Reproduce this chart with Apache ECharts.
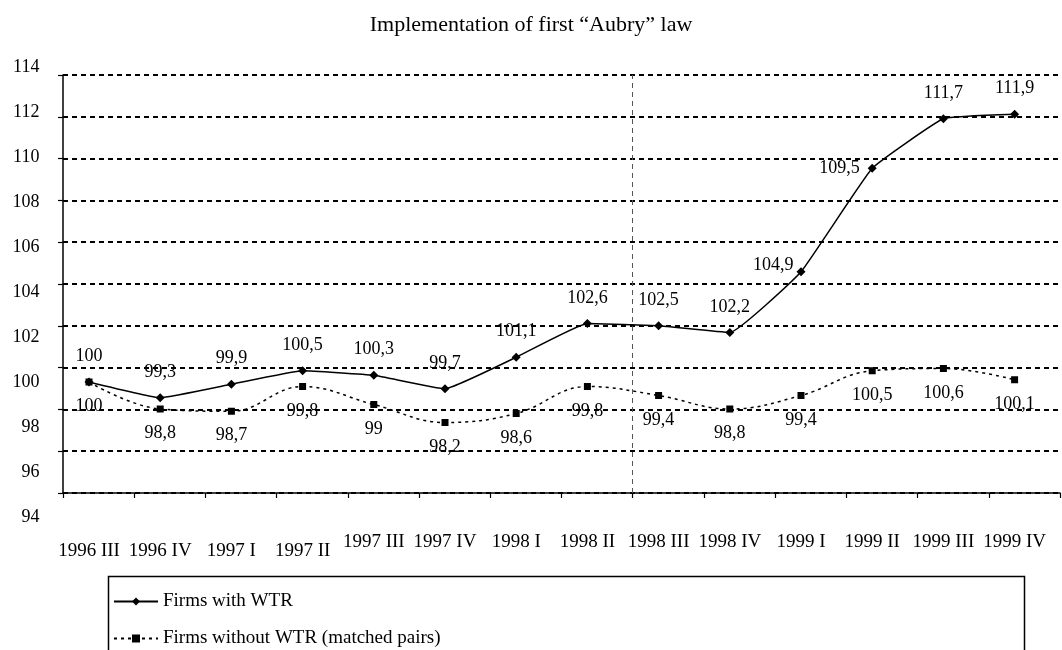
<!DOCTYPE html>
<html>
<head>
<meta charset="utf-8">
<script src="https://cdn.jsdelivr.net/npm/echarts@6/dist/echarts.min.js"></script>
<style>
  html, body { margin: 0; padding: 0; background: #fff; }
  #main { width: 1062px; height: 650px; }
</style>
</head>
<body>
<div id="main"></div>
<script>
var categories = ['1996 III', '1996 IV', '1997 I', '1997 II', '1997 III', '1997 IV', '1998 I',
                  '1998 II', '1998 III', '1998 IV', '1999 I', '1999 II', '1999 III', '1999 IV'];
var withWTR = [100, 99.3, 99.9, 100.5, 100.3, 99.7, 101.1, 102.6, 102.5, 102.2, 104.9, 109.5, 111.7, 111.9];
var withoutWTR = [100, 98.8, 98.7, 99.8, 99, 98.2, 98.6, 99.8, 99.4, 98.8, 99.4, 100.5, 100.6, 100.1];
var yTicks = { min: 94, max: 114, step: 2 };
var splitAt = 8; // boundary between 1998 II and 1998 III

var font = 'Liberation Serif';
var dom = document.getElementById('main');
var myChart = echarts.init(dom, null, { renderer: 'canvas' });

function comma(p) {
    return String(p.value).replace('.', ',');
}

// a couple of labels sit beside the point instead of above it
var withData = withWTR.map(function (v, i) {
    var item = { value: v };
    if (i === 10) item.label = { position: 'left', distance: 3, offset: [0, -6] };
    if (i === 11) item.label = { position: 'left', distance: 8 };
    return item;
});

var option = {
    animation: false,
    backgroundColor: '#fff',
    textStyle: { fontFamily: font, color: '#000' },
    title: {
        text: 'Implementation of first \u201cAubry\u201d law',
        left: 'center',
        top: 9,
        textStyle: { fontFamily: font, fontSize: 22, fontWeight: 'normal', color: '#000' }
    },
    legend: {
        orient: 'vertical',
        left: 113,
        top: 592,
        padding: 0,
        itemGap: 18,
        itemWidth: 44,
        itemHeight: 10,
        textStyle: { fontFamily: font, fontSize: 19, color: '#000' },
        data: ['Firms with WTR', 'Firms without WTR (matched pairs)']
    },
    graphic: [{
        type: 'rect',
        left: 106,
        top: 574,
        shape: { width: 916, height: 100 },
        style: { fill: null, stroke: '#000', lineWidth: 1.5 },
        silent: true
    }],
    grid: [
        // plotting area
        { left: 53.4, right: 11.8, top: 67, bottom: 133 },
        // frame with the dotted gridlines
        { left: 63, right: 2, top: 75, bottom: 157 }
    ],
    xAxis: [
        {
            type: 'category',
            gridIndex: 0,
            data: categories,
            boundaryGap: true,
            axisLine: { show: false },
            axisTick: { show: false },
            axisLabel: {
                interval: 0,
                margin: 16,
                fontFamily: font,
                fontSize: 19,
                color: '#000',
                formatter: function (v, i) {
                    return i < 4 ? '{low|' + v + '}' : v;
                },
                rich: {
                    low: { padding: [9, 0, 0, 0], fontFamily: font, fontSize: 19, color: '#000' }
                }
            },
            splitLine: { show: false }
        },
        {
            type: 'value',
            gridIndex: 1,
            min: 0,
            max: categories.length,
            interval: 1,
            axisLine: { show: true, lineStyle: { color: '#000', width: 1.5 } },
            axisTick: { show: true, length: 5, lineStyle: { color: '#000', width: 1.2 } },
            axisLabel: { show: false },
            splitLine: { show: false }
        }
    ],
    yAxis: [
        {
            type: 'value',
            gridIndex: 0,
            min: yTicks.min,
            max: yTicks.max,
            interval: yTicks.step,
            axisLine: { show: false },
            axisTick: { show: false },
            splitLine: { show: false },
            axisLabel: { margin: 14, fontFamily: font, fontSize: 18, color: '#000' }
        },
        {
            type: 'value',
            gridIndex: 1,
            min: yTicks.min,
            max: yTicks.max,
            interval: yTicks.step,
            axisLine: { show: true, lineStyle: { color: '#000', width: 1.5 } },
            axisTick: { show: true, length: 5, lineStyle: { color: '#000', width: 1.2 } },
            axisLabel: { show: false },
            splitLine: { show: true, lineStyle: { color: '#000', width: 2, type: [5, 4] } }
        }
    ],
    series: [
        {
            name: 'splitter',
            type: 'line',
            xAxisIndex: 1,
            yAxisIndex: 1,
            data: [],
            silent: true,
            markLine: {
                silent: true,
                symbol: 'none',
                label: { show: false },
                lineStyle: { color: '#555', width: 1, type: [5, 4] },
                data: [{ xAxis: splitAt }]
            }
        },
        {
            name: 'Firms with WTR',
            type: 'line',
            xAxisIndex: 0,
            yAxisIndex: 0,
            data: withData,
            smooth: 0.1,
            symbol: 'diamond',
            symbolSize: 9,
            itemStyle: { color: '#000' },
            lineStyle: { color: '#000', width: 1.5 },
            label: {
                show: true,
                position: 'top',
                distance: 12,
                fontFamily: font,
                fontSize: 18,
                color: '#000',
                formatter: comma
            },
            z: 3
        },
        {
            name: 'Firms without WTR (matched pairs)',
            type: 'line',
            xAxisIndex: 0,
            yAxisIndex: 0,
            data: withoutWTR,
            smooth: 0.4,
            symbol: 'rect',
            symbolSize: 7,
            itemStyle: { color: '#000' },
            lineStyle: { color: '#000', width: 1.5, type: [3, 4] },
            label: {
                show: true,
                position: 'bottom',
                distance: 12,
                fontFamily: font,
                fontSize: 18,
                color: '#000',
                formatter: comma
            },
            z: 3
        }
    ]
};

myChart.setOption(option);
window.addEventListener('resize', myChart.resize);
</script>
</body>
</html>
